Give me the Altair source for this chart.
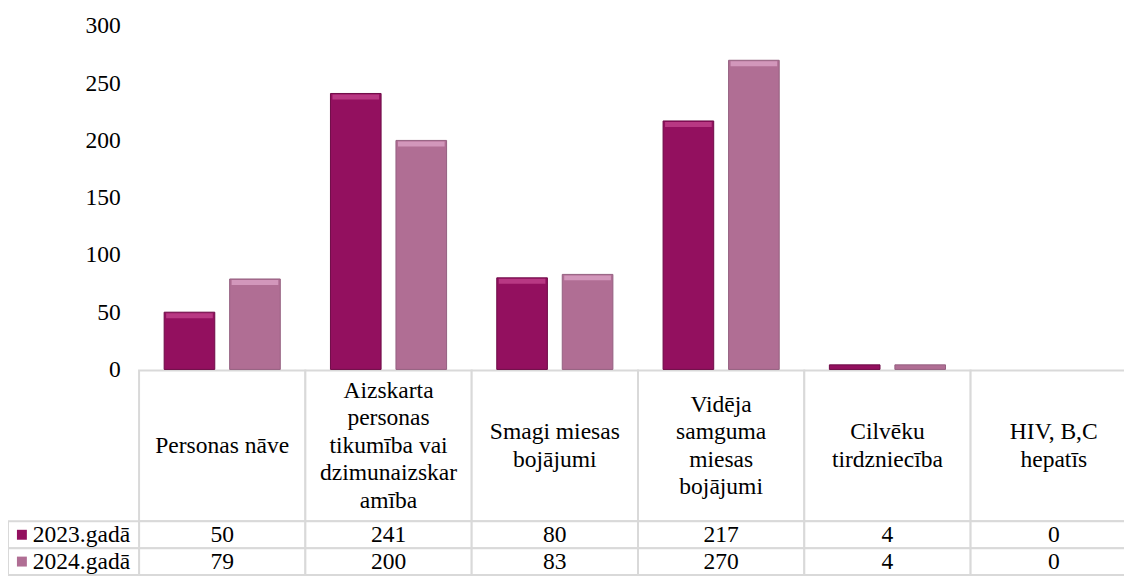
import altair as alt
import pandas as pd

# ---- data ----
categories = ["Personas nāve",
              "Aizskarta personas tikumība vai dzimunaizskar amība",
              "Smagi miesas bojājumi",
              "Vidēja samguma miesas bojājumi",
              "Cilvēku tirdzniecība",
              "HIV, B,C hepatīs"]
header_text = ["Personas nāve",
               "Aizskarta\npersonas\ntikumība vai\ndzimunaizskar\namība",
               "Smagi miesas\nbojājumi",
               "Vidēja\nsamguma\nmiesas\nbojājumi",
               "Cilvēku\ntirdzniecība",
               "HIV, B,C\nhepatīs"]
years = ["2023.gadā", "2024.gadā"]
values_2023 = [50, 241, 80, 217, 4, 0]
values_2024 = [79, 200, 83, 270, 4, 0]
y_ticks = [0, 50, 100, 150, 200, 250, 300]
colors = ["#93105F", "#B06E94"]
edge_colors = ["#6E0A47", "#946080"]
highlight_colors = ["#C4468F", "#DDA6C8"]

# ---- tables for the library ----
long_rows = []
for yr, vals in zip(years, [values_2023, values_2024]):
    for c, v in zip(categories, vals):
        long_rows.append({"cat": c, "year": yr, "value": v})
df = pd.DataFrame(long_rows)
hdr = pd.DataFrame({"cat": categories, "label": header_text, "part": "h"})
hdr["n"] = [t.count("\n") + 1 for t in header_text]
lab = pd.DataFrame({"year": years, "col": "lab"})

FONT = "'Liberation Serif', 'Times New Roman', Tinos, 'DejaVu Serif', serif"
FS = 23.7
LH = 27.6
GRID = "#d9d9d9"

def xcat():
    return alt.X("cat:N", scale=alt.Scale(domain=categories, range=[0, 1005],
                                          paddingInner=0, paddingOuter=0), axis=None)

def xoff():
    return alt.XOffset("year:N", scale=alt.Scale(domain=years, paddingInner=0.227,
                                                 paddingOuter=0.383))

def yval(axis=None):
    return alt.Y("value:Q", scale=alt.Scale(domain=[0, 300], range=[346, 0], nice=False),
                 axis=axis)

def yrow():
    return alt.Y("year:N", scale=alt.Scale(domain=years, range=[499, 553],
                                           paddingInner=0, paddingOuter=0), axis=None)

def yhdr():
    return alt.Y("part:N", scale=alt.Scale(domain=["h"], range=[347, 499],
                                           paddingInner=0, paddingOuter=0), axis=None)

def xlab():
    return alt.X("col:N", scale=alt.Scale(domain=["lab"], range=[-132, 0],
                                          paddingInner=0, paddingOuter=0), axis=None)

def colr(rng):
    return alt.Color("year:N", scale=alt.Scale(domain=years, range=rng), legend=None)

yaxis = alt.Axis(values=y_ticks, title=None, domain=False, ticks=True, tickSize=0,
                 grid=False, labelFont=FONT, labelFontSize=FS, labelColor="black",
                 labelPadding=19)

bars = alt.Chart(df).transform_filter("datum.value > 0").mark_bar(strokeWidth=1).encode(
    x=xcat(), xOffset=xoff(), y=yval(yaxis), fill=alt.Fill("year:N", scale=alt.Scale(domain=years, range=colors), legend=None),
    stroke=alt.Stroke("year:N", scale=alt.Scale(domain=years, range=edge_colors), legend=None),
)

highlight = alt.Chart(df).transform_filter("datum.value > 10").mark_tick(
    orient="horizontal", thickness=5, size=47, yOffset=3.5, opacity=0.75).encode(
    x=xcat(), xOffset=xoff(), y=yval(), color=colr(highlight_colors))

hdr_cells = alt.Chart(hdr).mark_rect(fill="white", stroke=GRID, strokeWidth=2).encode(
    x=xcat(), y=yhdr())
hdr_text = alt.Chart(hdr).mark_text(font=FONT, fontSize=FS, color="black", lineBreak="\n",
                                    lineHeight=LH, baseline="middle", align="center",
                                    dy=alt.expr(f"-(datum.n - 1) * {LH / 2}")).encode(
    x=xcat(), y=yhdr(), text="label:N")

cells = alt.Chart(df).mark_rect(fill="white", stroke=GRID, strokeWidth=2).encode(
    x=xcat(), y=yrow())
cell_text = alt.Chart(df).mark_text(font=FONT, fontSize=FS, color="black",
                                    baseline="middle", align="center").encode(
    x=xcat(), y=yrow(), text="value:Q")

lab_cells = alt.Chart(lab).mark_rect(fill="white", stroke=GRID, strokeWidth=2).encode(
    x=xlab(), y=yrow())
lab_text = alt.Chart(lab).mark_text(font=FONT, fontSize=FS, color="black", baseline="middle",
                                    align="left", dx=-41).encode(
    x=xlab(), y=yrow(), text="year:N")
lab_sq = alt.Chart(lab).mark_square(size=100, opacity=1, xOffset=-52).encode(
    x=xlab(), y=yrow(), color=colr(colors))

chart = alt.layer(hdr_cells, cells, lab_cells, bars, highlight, hdr_text, cell_text,
                  lab_text, lab_sq).resolve_scale(
    x="independent", y="independent", color="independent", fill="independent",
    stroke="independent"
).properties(
    width=992, height=554,
    autosize=alt.AutoSizeParams(type="none"),
    padding={"left": 132, "top": 16, "right": 0, "bottom": 0},
    background="white",
).configure_view(stroke=None)

chart.save("out.html", embed_options={"renderer": "svg", "actions": False})
